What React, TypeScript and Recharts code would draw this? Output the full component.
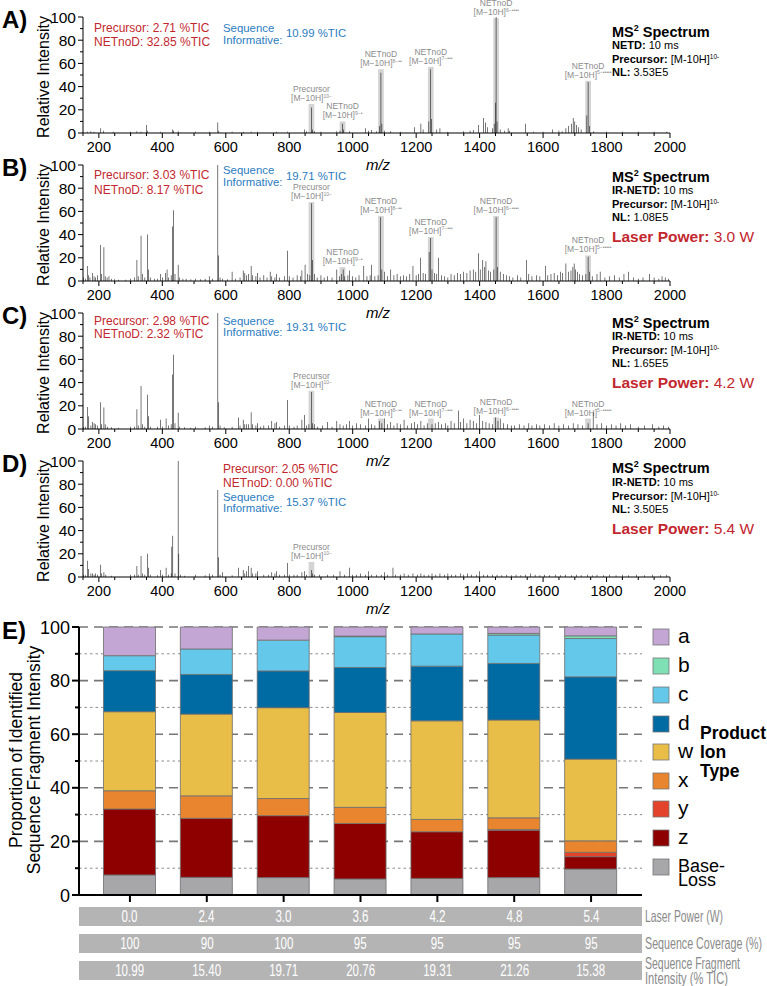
import React from "react";
import {
  ComposedChart,
  BarChart,
  Bar,
  XAxis,
  YAxis,
  ReferenceArea,
  CartesianGrid,
} from "recharts";

const FONT = '"Liberation Sans", Arial, Helvetica, sans-serif';
const NARROW = '"Liberation Sans Narrow", "Liberation Sans", Arial, sans-serif';
const RED = "#c3272e";
const BLUE = "#2b7cbf";

// ---- spectra (A-D): [m/z, relative intensity]
const spectrumA = [[165,1],[175,1.5],[185,1],[206,4],[215,2],[245,1],[300,1],[320,1.5],[333,1],[350,7],[353,2],[395,1],[432,3],[436,2],[450,1.5],[505,1],[548,1],[575,9],[578,2],[620,1],[655,1],[680,1],[700,1],[760,1],[795,1],[848,3],[855,1.5],[870,22],[873,3],[880,1.5],[900,1],[950,1.5],[960,2],[968,8],[971,3],[990,1.5],[1040,4],[1050,2],[1060,2.5],[1075,1.5],[1085,6],[1089,52],[1092,8],[1100,2],[1120,1.5],[1150,1],[1195,5],[1215,8],[1222,3],[1240,10],[1246,55],[1249,12],[1265,3],[1275,4],[1300,1],[1350,1.5],[1370,2],[1380,2.5],[1396,7],[1412,13],[1418,9],[1425,5],[1440,4],[1446,8],[1450,26],[1452,100],[1455,10],[1465,3],[1478,2],[1490,4],[1495,2],[1545,8],[1570,1],[1600,1],[1630,3],[1650,2],[1660,1.5],[1672,4],[1680,6],[1690,8],[1695,13],[1700,10],[1705,7],[1712,5],[1720,3],[1738,15],[1742,44],[1746,6],[1760,1.5],[1800,1],[1850,1],[1900,1],[1950,1],[1990,1]];

const spectrumB = [[152,3],[158,2],[165,13],[168,5],[172,3],[180,7],[185,4],[190,3],[196,5],[206,31],[209,6],[216,29],[220,4],[226,3],[232,4],[240,2],[250,1.5],[262,1],[285,1],[300,2],[312,3],[320,18],[324,4],[333,39],[337,6],[345,3],[353,40],[357,10],[362,3],[375,2],[385,2],[395,6],[400,3],[410,7],[415,10],[420,3],[428,5],[432,47],[435,61],[440,6],[450,14],[455,3],[465,2],[475,2],[490,1.5],[505,2],[520,1.5],[535,2],[548,4],[558,2],[575,100],[577,22],[582,3],[590,2],[605,1.5],[620,8],[630,2],[645,3],[655,9],[660,7],[665,5],[672,6],[680,13],[685,5],[695,4],[700,7],[708,3],[720,5],[730,3],[740,8],[745,4],[755,3],[760,6],[770,3],[785,4],[795,26],[800,4],[812,3],[825,5],[835,4],[840,9],[850,14],[858,6],[865,5],[870,67],[873,18],[880,6],[888,3],[900,5],[910,3],[920,4],[935,3],[950,10],[958,4],[965,6],[970,10],[975,4],[985,5],[990,9],[1000,4],[1010,3],[1020,5],[1035,13],[1045,4],[1055,5],[1060,14],[1070,4],[1080,5],[1088,55],[1092,10],[1100,8],[1110,4],[1120,10],[1130,5],[1140,6],[1150,4],[1160,5],[1170,4],[1180,6],[1190,13],[1200,5],[1207,6],[1214,20],[1222,7],[1230,6],[1241,25],[1246,37],[1250,10],[1258,7],[1265,6],[1270,20],[1280,5],[1290,4],[1300,3],[1310,6],[1320,5],[1330,7],[1340,6],[1350,8],[1360,7],[1370,9],[1380,10],[1388,8],[1396,24],[1402,10],[1410,18],[1415,12],[1420,17],[1428,9],[1435,8],[1445,10],[1452,55],[1456,12],[1465,8],[1475,6],[1485,5],[1495,4],[1505,3],[1520,5],[1530,3],[1548,18],[1555,6],[1565,4],[1580,5],[1590,4],[1607,13],[1615,5],[1625,6],[1635,7],[1645,5],[1655,8],[1662,7],[1672,15],[1680,8],[1688,9],[1694,12],[1698,15],[1702,10],[1708,8],[1715,6],[1725,5],[1735,6],[1742,21],[1746,8],[1755,4],[1770,6],[1780,8],[1795,3],[1810,4],[1825,5],[1840,3],[1855,6],[1870,8],[1885,3],[1900,2],[1915,3],[1935,6],[1950,3],[1965,2],[1975,4],[1985,3],[1995,2]];

const spectrumC = [[152,2],[158,2],[165,19],[168,11],[175,3],[180,6],[185,5],[190,4],[196,3],[206,23],[209,4],[216,18.5],[220,4],[228,2],[240,1.5],[262,1],[300,2],[312,2],[320,17],[324,3],[333,37],[337,4],[345,2],[353,29.5],[357,11],[362,2],[385,2],[395,8],[400,2],[412,9],[420,3],[428,4],[432,47],[435,64],[440,5],[450,14],[455,2],[470,1.5],[490,1],[505,2],[535,1.5],[548,3],[558,2],[575,100],[577,23],[582,3],[595,1.5],[620,2],[640,10],[645,3],[655,8],[660,4],[665,4],[672,4],[680,14.5],[685,4],[695,3],[700,5],[710,2],[720,3],[735,3],[745,7],[755,5],[760,6],[770,2],[785,3],[795,25],[800,3],[815,2],[825,3],[840,8],[848,12],[855,3],[862,4],[870,32],[873,5],[880,4],[890,2],[905,3],[920,6],[935,2],[950,7],[960,4],[970,3],[980,4],[990,7],[1000,3],[1012,5],[1025,4],[1040,3],[1050,9],[1060,4],[1070,3],[1085,7],[1092,5],[1100,9],[1110,4],[1120,6],[1130,3],[1140,5],[1150,4],[1162,8],[1172,3],[1185,5],[1195,6],[1205,4],[1215,7],[1225,3],[1235,5],[1250,4],[1260,5],[1270,6],[1280,4],[1292,5],[1300,3],[1310,7],[1320,5],[1333,16],[1340,6],[1350,9],[1360,5],[1370,8],[1380,7],[1390,5],[1400,12],[1410,7],[1420,6],[1430,5],[1440,4],[1450,10],[1458,7],[1465,9],[1475,5],[1488,4],[1500,3],[1510,3],[1525,4],[1540,3],[1555,5],[1565,3],[1580,4],[1590,3],[1605,4],[1620,3],[1635,5],[1650,3],[1665,4],[1680,3],[1695,5],[1710,4],[1725,3],[1742,5],[1758,14],[1770,4],[1785,5],[1800,3],[1815,4],[1830,3],[1845,5],[1860,3],[1875,4],[1900,2],[1920,3],[1945,4],[1965,2],[1980,3],[1995,2]];

const spectrumD = [[152,2],[158,1.5],[165,14],[168,7],[175,3],[180,3],[185,2],[190,3],[196,2],[206,10.5],[209,3],[216,4],[222,2],[240,1],[300,2],[312,2],[320,9.5],[324,2],[333,18],[337,3],[345,2],[353,20],[357,8],[362,2],[385,1.5],[395,6],[400,2],[412,8],[420,2],[428,3],[430,26],[433,35.5],[440,3],[450,100],[452,20],[458,2],[470,1],[505,2],[535,1.5],[548,3],[558,2],[575,75],[577,17],[582,2],[590,4],[620,1.5],[640,8],[655,6],[660,3],[665,5],[672,9.5],[680,8],[685,3],[695,3],[700,5],[720,2],[735,2],[745,4],[755,3],[760,5],[770,2],[785,2],[795,12],[800,2],[815,2],[825,2],[840,4],[848,5],[855,2],[870,6],[873,3],[880,2],[895,2],[920,2],[940,2],[960,5],[975,2],[990,8],[1000,2],[1012,2],[1025,3],[1040,2],[1050,5],[1060,2],[1075,2],[1090,2],[1100,4],[1110,2],[1127,8],[1135,2],[1150,2],[1162,3],[1175,2],[1190,3],[1205,2],[1215,3],[1225,2],[1240,2],[1250,3],[1262,2],[1275,3],[1290,2],[1300,3],[1312,2],[1325,2],[1340,3],[1350,2],[1362,3],[1375,2],[1390,2],[1400,5],[1412,2],[1425,2],[1440,2],[1455,2],[1470,1.5],[1485,2],[1500,1.5],[1515,2],[1530,1.5],[1545,2],[1560,3],[1575,2],[1590,1.5],[1605,2],[1620,1.5],[1640,2],[1655,1.5],[1670,2],[1690,1.5],[1705,2],[1720,1.5],[1740,2],[1755,1.5],[1770,2],[1790,1.5],[1810,2],[1830,1.5],[1850,2],[1870,1.5],[1895,2],[1920,1.5],[1945,2],[1970,1.5],[1990,2]];

// annotated ions
const ionMz = [870, 968, 1089, 1246, 1452, 1742];
const ionNames = ["Precursor", "NETnoD", "NETnoD", "NETnoD", "NETnoD", "NETnoD"];
const ionCharges = ["10−", "9−•", "8−••", "7−•••", "6−••••", "5−•••••"];
const boxTopsA = [25, 10, 55, 57, 99, 45];
const boxTopsB = [68, 12, 56, 38, 56, 22];
const boxTopsC = [33, null, 9, 9, 10, 9];
const boxTopsD = [13, null, null, null, null, null];

const mzTicks = [150,200,250,300,350,400,450,500,550,600,650,700,750,800,850,900,950,1000,1050,1100,1150,1200,1250,1300,1350,1400,1450,1500,1550,1600,1650,1700,1750,1800,1850,1900,1950,2000];
const intensityTicks = [0,10,20,30,40,50,60,70,80,90,100];

// panel annotations
const panelLetters = ["A)", "B)", "C)", "D)"];
const precursorTic = ["2.71", "3.03", "2.98", "2.05"];
const netnodTic = ["32.85", "8.17", "2.32", "0.00"];
const seqInfTic = ["10.99", "19.71", "19.31", "15.37"];
const activation = ["NETD", "IR-NETD", "IR-NETD", "IR-NETD"];
const nlValues = ["3.53E5", "1.08E5", "1.65E5", "3.50E5"];
const laserLabels = ["", "3.0 W", "4.2 W", "5.4 W"];

// ---- panel E
const laserPower = ["0.0", "2.4", "3.0", "3.6", "4.2", "4.8", "5.4"];
const coverage = ["100", "90", "100", "95", "95", "95", "95"];
const fragIntensity = ["10.99", "15.40", "19.71", "20.76", "19.31", "21.26", "15.38"];
const baseLoss = [7.5, 6.6, 6.5, 6.0, 6.2, 6.5, 9.7];
const zIons = [24.6, 22.0, 23.1, 20.7, 17.4, 17.6, 4.6];
const yIons = [0, 0, 0, 0, 0, 0.3, 1.6];
const xIons = [6.8, 8.4, 6.4, 6.0, 4.6, 4.4, 4.3];
const wIons = [29.5, 30.5, 33.9, 35.4, 36.8, 36.5, 30.5];
const dIons = [15.3, 14.8, 13.7, 16.8, 20.4, 21.1, 30.7];
const cIons = [5.6, 9.5, 11.5, 11.5, 12.0, 10.6, 14.3];
const bIons = [0, 0, 0, 0.2, 0, 0.6, 1.0];
const aIons = [10.7, 8.2, 4.9, 3.4, 2.6, 2.4, 3.3];

const ionTypes = ["Base-Loss", "z", "y", "x", "w", "d", "c", "b", "a"];
const ionColors = ["#a7a7aa", "#8e0000", "#e3432b", "#e9852f", "#e8bd48", "#006aa2", "#64c8ea", "#7fe0b6", "#c3a6d4"];
const ionValues = [baseLoss, zIons, yIons, xIons, wIons, dIons, cIons, bIons, aIons];
const majorGrid = [20, 40, 60, 80, 100];
const minorGrid = [10, 30, 50, 70, 90];

const eData = laserPower.map((p, i) => {
  const row: any = { power: p };
  ionTypes.forEach((t, k) => (row[t] = ionValues[k][i]));
  return row;
});

const panelTop = [0, 148, 296, 444];
const spectra = [spectrumA, spectrumB, spectrumC, spectrumD];
const boxTops = [boxTopsA, boxTopsB, boxTopsC, boxTopsD];

function SpecXTick(props: any) {
  const { x, y, payload } = props;
  const major = payload.value % 200 === 0;
  return (
    <g>
      <line x1={x} x2={x} y1={y} y2={y + (major ? 5 : 3)} stroke="#000" />
      {major && (
        <text x={x} y={y + 19} textAnchor="middle" fontSize={14.5} fontFamily={FONT} fill="#000">
          {payload.value}
        </text>
      )}
    </g>
  );
}

function SpecYTick(props: any) {
  const { x, y, payload } = props;
  const major = payload.value % 20 === 0;
  return (
    <g>
      <line x1={x} x2={x - (major ? 5 : 3)} y1={y} y2={y} stroke="#000" />
      {major && (
        <text x={x - 7} y={y + 5.5} textAnchor="end" fontSize={15.5} fontFamily={FONT} fill="#000">
          {payload.value}
        </text>
      )}
    </g>
  );
}

const boxLabel = (name: string, charge: string) => (props: any) => {
  const vb = props.viewBox;
  if (!vb) return null;
  const cx = vb.x + vb.width / 2;
  return (
    <g fontFamily={NARROW} fill="#8c8c8c" fontSize={8.5} textAnchor="middle">
      <text x={cx} y={vb.y - 12}>{name}</text>
      <text x={cx} y={vb.y - 3}>
        [M−10H]<tspan fontSize={5} dy={-3.5}>{charge}</tspan>
      </text>
    </g>
  );
};

function Spectrum({ index }: { index: number }) {
  const data = spectra[index].map(([mz, v]) => ({ mz, v }));
  const tops = boxTops[index];
  return (
    <div style={{ position: "absolute", left: 0, top: panelTop[index] }}>
      <ComposedChart width={767} height={160} data={data} margin={{ top: 17, right: 97, bottom: 0, left: 0 }}>
        <XAxis
          dataKey="mz"
          type="number"
          domain={[150, 2000]}
          ticks={mzTicks}
          interval={0}
          allowDataOverflow
          height={27}
          tickSize={0}
          tickMargin={0}
          tick={<SpecXTick />}
          axisLine={{ stroke: "#000" }}
        />
        <YAxis
          type="number"
          domain={[0, 100]}
          ticks={intensityTicks}
          interval={0}
          allowDataOverflow
          width={83}
          tickSize={0}
          tickMargin={0}
          tick={<SpecYTick />}
          axisLine={{ stroke: "#000" }}
        />
        {ionMz.map((mz, k) =>
          tops[k] == null ? null : (
            <ReferenceArea
              key={k}
              x1={mz - 9}
              x2={mz + 9}
              y1={0}
              y2={tops[k] as number}
              fill="#a0a0a0"
              fillOpacity={0.45}
              stroke="none"
              {...({ zIndex: -10 } as any)}
              label={boxLabel(ionNames[k], ionCharges[k])}
            />
          )
        )}
        <Bar dataKey="v" fill="#111" barSize={1.2} isAnimationActive={false} />
      </ComposedChart>
    </div>
  );
}

function EYTick(props: any) {
  const { x, y, payload } = props;
  const major = payload.value % 20 === 0;
  return (
    <g>
      <line x1={x} x2={x - (major ? 7 : 4)} y1={y} y2={y} stroke="#000" strokeWidth={2} />
      {major && (
        <text x={x - 9} y={y + 6.5} textAnchor="end" fontSize={18} fontFamily={FONT} fill="#000">
          {payload.value}
        </text>
      )}
    </g>
  );
}

function EXTick(props: any) {
  const { x, y } = props;
  return <line x1={x} x2={x} y1={y} y2={y + 7} stroke="#000" strokeWidth={2} />;
}

// grid rows positioned through the y axis scale (value domain is 0-100)
const gridAt = (values: number[]) => (args: any) => {
  const scale = args?.yAxis?.scale;
  if (typeof scale === "function") return values.map((v) => scale(v));
  if (scale && typeof scale.map === "function") return values.map((v) => scale.map(v));
  const off = args.offset;
  return values.map((v) => off.top + off.height * (1 - v / 100));
};

const statY = [
  { p: 27.7, n: 41.7, s: 28.3, i: 40, v: 33 },
  { p: 27, n: 42, s: 22, i: 34, v: 28 },
  { p: 24.7, n: 38, s: 24.7, i: 36, v: 30.7 },
  { p: 24.3, n: 38.7, s: 53.3, i: 64.3, v: 57.7 },
];
const statX = [
  { p: 94, s: 223, v: 286 },
  { p: 94, s: 223, v: 286 },
  { p: 94, s: 223, v: 286 },
  { p: 223, s: 223, v: 286 },
];
const msY = [31.7, 28.7, 26.7, 24.3];

function PanelText({ index }: { index: number }) {
  const T = panelTop[index];
  const sy = statY[index];
  const sx = statX[index];
  const my = T + msY[index];
  return (
    <g fontFamily={FONT}>
      <text x={2} y={T + 28} fontSize={24} fontWeight="bold">{panelLetters[index]}</text>
      <text x={49} y={T + 77} fontSize={16} textAnchor="middle" transform={`rotate(-90 49 ${T + 77})`}>
        Relative Intensity
      </text>
      <text x={378} y={T + 170} fontSize={15} fontStyle="italic" textAnchor="middle">m/z</text>
      <g fontSize={12}>
        <text x={sx.p} y={T + sy.p + 4.3} fill={RED}>Precursor: {precursorTic[index]} %TIC</text>
        <text x={sx.p} y={T + sy.n + 4.3} fill={RED}>NETnoD: {netnodTic[index]} %TIC</text>
      </g>
      <g fontSize={11.4} fill={BLUE}>
        <text x={sx.s} y={T + sy.s + 4}>Sequence</text>
        <text x={sx.s} y={T + sy.i + 4}>Informative:</text>
        <text x={sx.v} y={T + sy.v + 4}>{seqInfTic[index]} %TIC</text>
      </g>
      <text x={612} y={my + 5} fontSize={14.5} fontWeight="bold">
        MS<tspan fontSize={9} dy={-6}>2</tspan><tspan dy={6}> Spectrum</tspan>
      </text>
      <g fontSize={11}>
        <text x={612} y={my + 17.7}>
          <tspan fontWeight="bold">{activation[index]}:</tspan> 10 ms
        </text>
        <text x={612} y={my + 31.3}>
          <tspan fontWeight="bold">Precursor:</tspan> [M-10H]<tspan fontSize={6.5} dy={-4}>10-</tspan>
        </text>
        <text x={612} y={my + 44.5}>
          <tspan fontWeight="bold">NL:</tspan> {nlValues[index]}
        </text>
      </g>
      {laserLabels[index] && (
        <text x={612} y={my + 65.5} fontSize={15.5} fill={RED}>
          <tspan fontWeight="bold">Laser Power:</tspan> {laserLabels[index]}
        </text>
      )}
    </g>
  );
}

const legendY = [637, 666, 695, 724, 752, 781, 809, 838, 867];
const tableRows = [laserPower, coverage, fragIntensity];
const tableTops = [907, 934, 961];

export default function App() {
  const legendOrder = [...ionTypes].reverse();
  const legendColors = [...ionColors].reverse();
  return (
    <div style={{ position: "absolute", left: 0, top: 0, width: 767, height: 986, background: "#fff", fontFamily: FONT }}>
      <style>{"svg{overflow:visible}"}</style>
      {panelTop.map((_, i) => (
        <Spectrum key={i} index={i} />
      ))}

      <div style={{ position: "absolute", left: 0, top: 610 }}>
        <BarChart width={767} height={300} data={eData} margin={{ top: 17, right: 125, bottom: 0, left: 0 }}>
          <CartesianGrid
            vertical={false}
            stroke="#8a8a8a"
            strokeDasharray="2.5 3"
            horizontalCoordinatesGenerator={gridAt(minorGrid)}
          />
          <CartesianGrid
            vertical={false}
            stroke="#777"
            strokeWidth={1.6}
            strokeDasharray="9 6"
            horizontalCoordinatesGenerator={gridAt(majorGrid)}
          />
          <XAxis
            dataKey="power"
            padding={{ left: 12.5, right: 12.5 }}
            height={15}
            tickSize={0}
            tickMargin={0}
            tick={<EXTick />}
            interval={0}
            axisLine={{ stroke: "#000", strokeWidth: 2 }}
          />
          <YAxis
            domain={[0, 100]}
            ticks={intensityTicks}
            interval={0}
            width={79}
            tickSize={0}
            tickMargin={0}
            tick={<EYTick />}
            axisLine={{ stroke: "#000", strokeWidth: 2 }}
          />
          {ionTypes.map((t, k) => (
            <Bar
              key={t}
              dataKey={t}
              stackId="s"
              fill={ionColors[k]}
              stroke="#6d6d6d"
              strokeWidth={0.8}
              barSize={52}
              isAnimationActive={false}
            />
          ))}
        </BarChart>
      </div>

      {tableRows.map((row, r) => (
        <div
          key={r}
          style={{
            position: "absolute",
            left: 79,
            top: tableTops[r],
            width: 563,
            height: 19,
            background: "#b4b4b4",
            display: "flex",
            padding: "0 12.5px",
            boxSizing: "border-box",
            color: "#fff",
            fontFamily: NARROW,
            fontSize: 16.5,
            lineHeight: "19px",
          }}
        >
          {row.map((v, i) => (
            <div key={i} style={{ flex: 1, textAlign: "center" }}>
              <span style={{ display: "inline-block", transform: "scaleX(0.7)" }}>{v}</span>
            </div>
          ))}
        </div>
      ))}

      <svg width={767} height={986} style={{ position: "absolute", left: 0, top: 0, pointerEvents: "none" }}>
        {panelTop.map((_, i) => (
          <PanelText key={i} index={i} />
        ))}
        <g fontFamily={FONT}>
          <text x={2} y={639} fontSize={24} fontWeight="bold">E)</text>
          <text x={22} y={760} fontSize={17.5} textAnchor="middle" transform="rotate(-90 22 760)">
            Proportion of Identified
          </text>
          <text x={40} y={760} fontSize={17.5} textAnchor="middle" transform="rotate(-90 40 760)">
            Sequence Fragment Intensity
          </text>
          {legendOrder.map((t, k) => (
            <g key={t}>
              <rect x={653} y={legendY[k] - 8} width={16} height={16} fill={legendColors[k]} stroke="#777" strokeWidth={0.8} />
              {t === "Base-Loss" ? (
                <text x={678} fontSize={18}>
                  <tspan x={678} y={legendY[k] + 4.5}>Base-</tspan>
                  <tspan x={678} y={legendY[k] + 18.5}>Loss</tspan>
                </text>
              ) : (
                <text x={678} y={legendY[k] + 6} fontSize={21}>{t}</text>
              )}
            </g>
          ))}
          <g fontSize={17.5} fontWeight="bold">
            <text x={700} y={739}>Product</text>
            <text x={700} y={758}>Ion</text>
            <text x={700} y={777}>Type</text>
          </g>
        </g>
        <g fontFamily={NARROW} fontSize={17} fill="#8a8a8a">
          <text x={645} y={922} textLength={78} lengthAdjust="spacingAndGlyphs">Laser Power (W)</text>
          <text x={645} y={949} textLength={117} lengthAdjust="spacingAndGlyphs">Sequence Coverage (%)</text>
          <text x={645} y={968.5} textLength={95} lengthAdjust="spacingAndGlyphs">Sequence Fragment</text>
          <text x={645} y={983.5} textLength={83} lengthAdjust="spacingAndGlyphs">Intensity (% TIC)</text>
        </g>
      </svg>
    </div>
  );
}
